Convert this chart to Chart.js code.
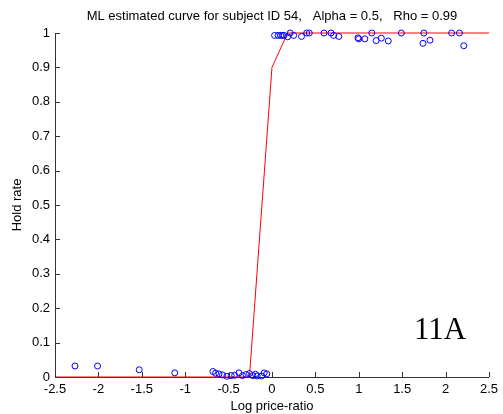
<!DOCTYPE html>
<html>
<head>
<meta charset="utf-8">
<script src="https://cdn.jsdelivr.net/npm/chart.js@4"></script>
<style>
html,body{margin:0;padding:0;background:#fff;}
#wrap{width:503px;height:414px;}
</style>
</head>
<body>
<div id="wrap"><canvas id="c" width="503" height="414"></canvas></div>
<script>
// Observed data points (log price-ratio, hold rate)
const obsX = [-2.27, -2.01, -1.53, -1.12, -0.68, -0.65, -0.61, -0.57, -0.52, -0.47, -0.43, -0.38, -0.34, -0.30, -0.26, -0.22, -0.19, -0.17, -0.12, -0.09, -0.06,
              0.03, 0.07, 0.10, 0.12, 0.14, 0.18, 0.21, 0.25, 0.34, 0.40, 0.43, 0.60, 0.68, 0.71, 0.77, 0.99, 1.00, 1.07, 1.15, 1.20, 1.26, 1.34, 1.49, 1.74, 1.75, 1.82, 2.07, 2.16, 2.21];
const obsY = [0.032, 0.032, 0.021, 0.012, 0.016, 0.011, 0.009, 0.006, 0.002, 0.004, 0.005, 0.012, 0.004, 0.007, 0.010, 0.004, 0.008, 0.003, 0.003, 0.012, 0.009,
              0.993, 0.993, 0.993, 0.993, 0.993, 0.989, 1.000, 0.993, 0.990, 1.000, 1.000, 1.000, 1.000, 0.993, 0.990, 0.986, 0.983, 0.983, 1.000, 0.978, 0.985, 0.977, 1.000, 0.970, 1.000, 0.979, 1.000, 1.000, 0.963];
// ML estimated curve
const curveX = [-2.5, -0.26, 0.0, 0.18, 2.5];
const curveY = [0, 0, 0.9, 1.0, 1.0];
// Tick labels
const xTicks = [-2.5, -2, -1.5, -1, -0.5, 0, 0.5, 1, 1.5, 2, 2.5];
const yTicks = [0, 0.1, 0.2, 0.3, 0.4, 0.5, 0.6, 0.7, 0.8, 0.9, 1];
const titleText = 'ML estimated curve for subject ID 54,   Alpha = 0.5,   Rho = 0.99';
const xLabel = 'Log price-ratio';
const yLabel = 'Hold rate';
const panelLabel = '11A';

const obsData = obsX.map((x, i) => ({x: x, y: obsY[i]}));
const curveData = curveX.map((x, i) => ({x: x, y: curveY[i]}));

const FONT = '"Liberation Sans", Arial, sans-serif';

const inwardTicks = {
  id: 'inwardTicks',
  afterDraw(chart) {
    const ctx = chart.ctx;
    const xs = chart.scales.x, ys = chart.scales.y;
    const a = chart.chartArea;
    ctx.save();
    ctx.strokeStyle = '#333';
    ctx.lineWidth = 1;
    ctx.beginPath();
    xs.ticks.forEach(t => {
      const px = Math.round(xs.getPixelForValue(t.value)) + 0.5;
      ctx.moveTo(px, a.bottom);
      ctx.lineTo(px, a.bottom - 5);
    });
    ys.ticks.forEach(t => {
      const py = Math.round(ys.getPixelForValue(t.value)) + 0.5;
      ctx.moveTo(a.left, py);
      ctx.lineTo(a.left + 5, py);
    });
    ctx.stroke();
    ctx.fillStyle = '#000';
    ctx.font = '31px "Liberation Serif", "Times New Roman", serif';
    ctx.textAlign = 'left';
    ctx.textBaseline = 'alphabetic';
    ctx.fillText(panelLabel, a.right - 75, a.bottom - 38);
    ctx.restore();
  }
};

new Chart(document.getElementById('c'), {
  type: 'scatter',
  data: {
    datasets: [
      {
        label: 'observed',
        data: obsData,
        showLine: false,
        pointStyle: 'circle',
        pointRadius: 3,
        pointHoverRadius: 3,
        pointBorderColor: '#0000ff',
        pointBackgroundColor: 'rgba(0,0,0,0)',
        pointBorderWidth: 1,
        clip: false,
        order: 0
      },
      {
        label: 'curve',
        data: curveData,
        showLine: true,
        borderColor: '#ff0000',
        borderWidth: 1,
        pointRadius: 0,
        fill: false,
        tension: 0,
        clip: false,
        order: 1
      }
    ]
  },
  options: {
    responsive: false,
    animation: false,
    events: [],
    layout: {padding: {left: 0, right: 13, top: 0, bottom: 0}},
    plugins: {
      legend: {display: false},
      tooltip: {enabled: false},
      title: {
        display: true,
        fullSize: false,
        text: titleText,
        color: '#000',
        font: {family: FONT, size: 13, weight: 'normal'},
        padding: {top: 8.2, bottom: 9.2}
      }
    },
    scales: {
      x: {
        type: 'linear',
        min: -2.5, max: 2.5,
        afterBuildTicks: s => { s.ticks = xTicks.map(v => ({value: v})); },
        afterFit: s => { s.height = 37; },
        grid: {display: true, drawOnChartArea: false, drawTicks: false},
        border: {display: true, color: '#333', width: 1},
        ticks: {
          color: '#000', padding: 5, maxRotation: 0, autoSkip: false,
          font: {family: FONT, size: 13},
          callback: v => String(v)
        },
        title: {
          display: true, text: xLabel, color: '#000',
          font: {family: FONT, size: 13},
          padding: {top: 0, bottom: 0}
        }
      },
      y: {
        type: 'linear',
        min: 0, max: 1,
        afterBuildTicks: s => { s.ticks = yTicks.map(v => ({value: v})); },
        afterFit: s => { s.width = 55; },
        grid: {display: true, drawOnChartArea: false, drawTicks: false},
        border: {display: true, color: '#333', width: 1},
        ticks: {
          color: '#000', padding: 5, autoSkip: false,
          font: {family: FONT, size: 13},
          callback: v => String(v)
        },
        title: {
          display: true, text: yLabel, color: '#000',
          font: {family: FONT, size: 13},
          padding: {top: 10, bottom: 0}
        }
      }
    }
  },
  plugins: [inwardTicks]
});
</script>
</body>
</html>
